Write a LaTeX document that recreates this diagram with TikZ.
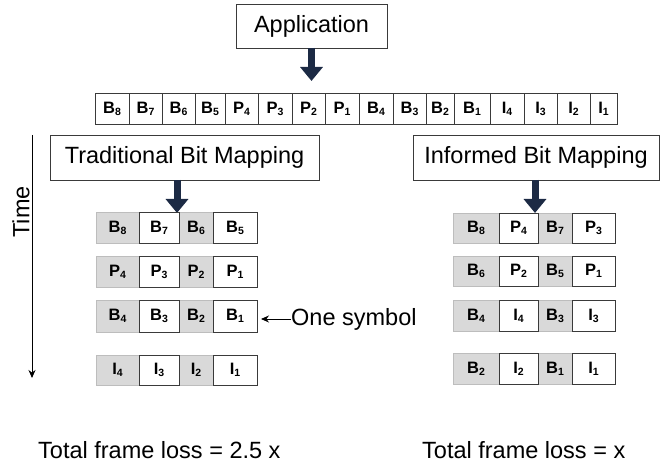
\documentclass[tikz,border=0pt]{standalone}
\usepackage{fontspec}
\setmainfont{Liberation Sans}
\usetikzlibrary{arrows.meta}
\definecolor{navy}{HTML}{1C2A44}
\definecolor{cellgray}{HTML}{D9D9D9}
\definecolor{cellline}{HTML}{BDBDBD}
\definecolor{edge}{HTML}{3A3A3A}
\newcommand{\lbl}[2]{\textbf{#1\raisebox{-2bp}{\fontsize{10.5bp}{11bp}\selectfont #2}}}
\newcommand{\mkcell}[7]{\node[#6, minimum width={(#3-#2)*1bp}, minimum height={(#5-#4)*1bp}] (#1) at ({(#2+#3)/2},{(#4+#5)/2}) {#7};}
\begin{document}
\begin{tikzpicture}[x=1bp,y=-1bp,
  bigtext/.style={font=\fontsize{23.5bp}{28bp}\selectfont},
  titlebox/.style={draw=edge, line width=0.8bp, fill=white, inner sep=0, outer sep=0, bigtext},
  whitecell/.style={draw=edge, line width=0.8bp, fill=white, inner sep=0, outer sep=0, font=\fontsize{16.5bp}{18bp}\selectfont},
  graycell/.style={draw=cellline, line width=0.8bp, fill=cellgray, inner sep=0, outer sep=0, font=\fontsize{16.5bp}{18bp}\selectfont},
  blockarrow/.style={navy, line width=7bp, -{Triangle[width=22bp,length=14bp]}},
  thinarrow/.style={black, line width=0.9bp, -{Stealth[width=7bp,length=8bp]}}]
\useasboundingbox (0,0) rectangle (666,468);

% Application box
\node[titlebox, minimum width=151bp, minimum height=44bp] (app) at (311.5,26) {Application};
\coordinate (appTip) at (311.5,81);
\draw[blockarrow] (app.south) -- (appTip);

% top bar
\foreach \a/\b/\l/\s [count=\i] in {95/129/B/8,129/162/B/7,162/195/B/6,195/225/B/5,225/258/P/4,258/292/P/3,292/325/P/2,325/359/P/1,359/393/B/4,393/426/B/3,426/454/B/2,454/490/B/1,490/524/I/4,524/557/I/3,557/590/I/2,590/617/I/1}{
  \mkcell{top\i}{\a}{\b}{93}{124}{whitecell}{\lbl{\l}{\s}}
}

% title boxes
\node[titlebox, minimum width=269bp, minimum height=45bp] (trad) at (184.5,157.5) {Traditional Bit Mapping};
\node[titlebox, minimum width=246bp, minimum height=45bp] (inf) at (536,157.5) {Informed Bit Mapping};
\coordinate (tradTip) at (177,213);
\coordinate (infTip) at (535,213);
\draw[blockarrow] (tradTip |- trad.south) -- (tradTip);
\draw[blockarrow] (infTip |- inf.south) -- (infTip);

% left rows
\foreach \r/\ya/\yb/\la/\sa/\lb/\sb/\lc/\sc/\ld/\sd in {1/212/243/B/8/B/7/B/6/B/5, 2/256/287/P/4/P/3/P/2/P/1, 3/300/332/B/4/B/3/B/2/B/1, 4/355/385/I/4/I/3/I/2/I/1}{
  \mkcell{l\r a}{96}{139}{\ya}{\yb}{graycell}{\lbl{\la}{\sa}}
  \mkcell{l\r c}{179}{213}{\ya}{\yb}{graycell}{\lbl{\lc}{\sc}}
  \mkcell{l\r b}{139}{179}{\ya}{\yb}{whitecell}{\lbl{\lb}{\sb}}
  \mkcell{l\r d}{213}{257}{\ya}{\yb}{whitecell}{\lbl{\ld}{\sd}}
}

% right rows
\foreach \r/\ya/\yb/\la/\sa/\lb/\sb/\lc/\sc/\ld/\sd in {1/213/243/B/8/P/4/B/7/P/3, 2/256/286/B/6/P/2/B/5/P/1, 3/300/331/B/4/I/4/B/3/I/3, 4/353/384/B/2/I/2/B/1/I/1}{
  \mkcell{r\r a}{453}{499}{\ya}{\yb}{graycell}{\lbl{\la}{\sa}}
  \mkcell{r\r c}{538}{572}{\ya}{\yb}{graycell}{\lbl{\lc}{\sc}}
  \mkcell{r\r b}{499}{538}{\ya}{\yb}{whitecell}{\lbl{\lb}{\sb}}
  \mkcell{r\r d}{572}{615}{\ya}{\yb}{whitecell}{\lbl{\ld}{\sd}}
}

% time axis
\coordinate (timeTop) at (32,135);
\coordinate (timeBot) at (32,378);
\draw[thinarrow] (timeTop) -- (timeBot);
\node[bigtext, rotate=90, inner sep=0] (time) at (21,212) {Time};

% one symbol
\node[bigtext, anchor=west, inner sep=0] (onesym) at (291,319) {One symbol};
\draw[thinarrow, shorten >=4bp] (onesym.west) -- (onesym.west -| l3d.east);

% totals
\node[bigtext, anchor=base west, inner sep=0] (lossL) at (38,458) {Total frame loss = 2.5 x};
\node[bigtext, anchor=base west, inner sep=0] (lossR) at (422,458) {Total frame loss = x};
\end{tikzpicture}
\end{document}
